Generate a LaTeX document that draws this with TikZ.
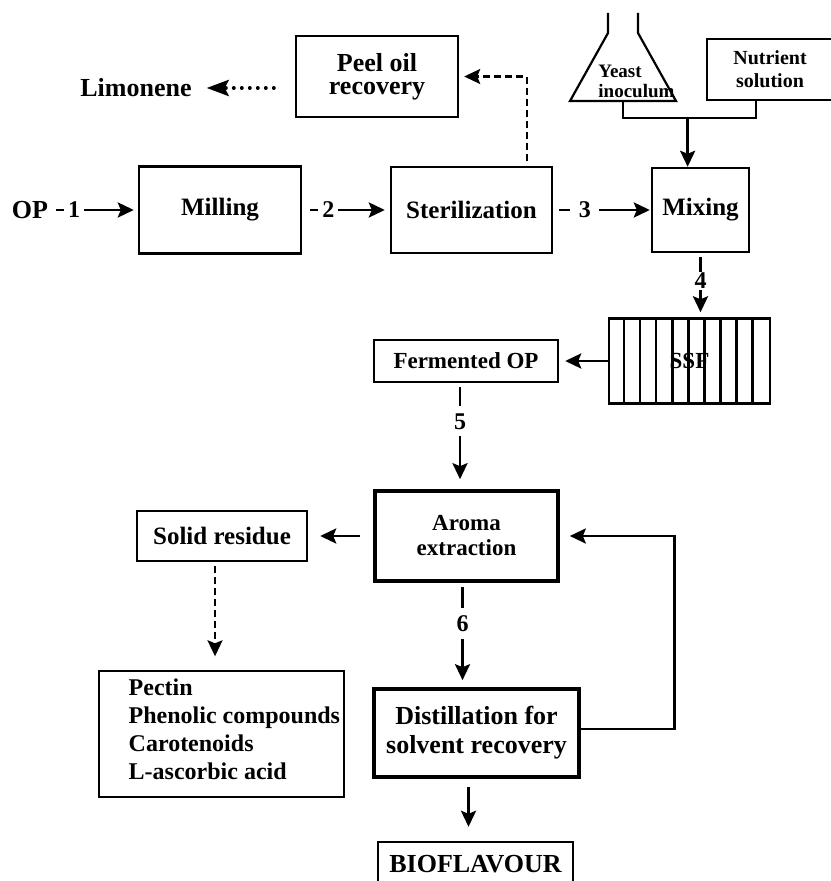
\documentclass[tikz,border=0pt]{standalone}
\usepackage{fontspec}
\setmainfont{Liberation Serif}
\usetikzlibrary{arrows.meta}

\begin{document}
\begin{tikzpicture}[x = 0.5pt, y = -0.5pt, line width = 1.4pt,
    >={Stealth[length = 8pt, width = 7.5pt, inset = 1.5pt]},
    fs/.style 2 args = {font = \fontsize{#1}{#2}\selectfont\bfseries},
    fs = {12.5}{14},
    box/.style = {draw, line width = 1.2pt, inner sep = 0pt, align = center},
    heavybox/.style = {box, line width = 1.8pt},
    thinbox/.style = {box, line width = 0.7pt},
    num/.style = {fill = white, inner xsep = 2pt, inner ysep = 3.5pt, fs = {12}{12}},
    dashline/.style = {line width = 1.1pt, dash pattern = on 3.5pt off 2pt},
    dotline/.style = {line width = 2pt, line cap = round, dash pattern = on 0pt off 4pt}]
\useasboundingbox (0,0) rectangle (830,881);
\draw
    (30,210) node[fs = {13}{14}](op){OP}
    (136,88) node[fs = {13}{14}](limo){Limonene}
    (377,76.5) node[box, minimum width = 81pt, minimum height = 40.5pt, fs = {13}{11.5}](peel){Peel oil\\recovery}
    (220,210) node[box, minimum width = 81pt, minimum height = 43.5pt](mill){Milling}
    (471.5,210) node[box, minimum width = 80.5pt, minimum height = 43pt](steril){Sterilization}
    (700.5,210) node[box, minimum width = 48.5pt, minimum height = 42pt](mix){Mixing}
    (770,69.5) node[box, minimum width = 63pt, minimum height = 30.5pt, fs = {10}{11.5}](nutr){Nutrient\\solution}
    (597,81) node[anchor = west, align = left, inner sep = 0pt, fs = {9.5}{10}](yeast){Yeast\\inoculum}
    (689.5,361) node[box, minimum width = 80.5pt, minimum height = 42.5pt, fs = {11.5}{12}](ssf){SSF}
    (466,361) node[box, minimum width = 92pt, minimum height = 21pt, fs = {11.5}{12}](ferm){Fermented OP}
    (466.5,536) node[heavybox, minimum width = 91.5pt, minimum height = 45pt, fs = {11.5}{12.5}](aroma){Aroma\\extraction}
    (222,536) node[box, minimum width = 85pt, minimum height = 25pt](solid){Solid residue}
    (221.5,734) node[thinbox, minimum width = 122.5pt, minimum height = 63pt](comp){}
    (476.5,733) node[heavybox, minimum width = 102.5pt, minimum height = 44pt, fs = {13}{14.5}](dist){Distillation for\\solvent recovery}
    (475.5,864) node[box, minimum width = 97.5pt, minimum height = 22pt, fs = {13}{14}](bio){BIOFLAVOUR};
\node[anchor = west, align = left, inner sep = 0pt, fs = {12}{14}](comptext) at ([xshift = 14.5pt, yshift = 2.5pt]comp.west) {Pectin\\Phenolic compounds\\Carotenoids\\L-ascorbic acid};

\foreach \i in {1,...,9}
    \draw[line width = 1.3pt] ([xshift = \i*8.05pt]ssf.south west) -- ([xshift = \i*8.05pt]ssf.north west);

\draw[line width = 1.1pt] (608,13) -- (608,33) -- (570,101) -- coordinate (fb) (676,101) -- (638,33) -- (638,13);
\draw (fb) -- ++(0,17) -| coordinate[pos = 0.243] (jn) ([xshift = -7pt]nutr.south);
\draw[->] (jn) -- (jn |- mix.north);

\draw[->, shorten >= 2pt] (op) -- node[num, pos = 0.22]{1} (mill);
\draw[->, shorten <= 4pt, shorten >= 2.5pt] (mill) -- node[num, pos = 0.3]{2} (steril);
\draw[->, shorten <= 3pt, shorten >= 0.5pt] (steril) -- node[num, pos = 0.325, inner xsep = 4.25pt]{3} (mix);
\draw[->, shorten <= 2pt, shorten >= 2.5pt] (mix) -- node[num, pos = 0.43, inner ysep = 0.5pt]{4} (mix |- ssf.north);
\draw[->, shorten >= 3pt] (ssf) -- (ferm);
\draw[->, shorten <= 2pt, shorten >= 5pt] ([xshift = -3pt]ferm.south) -- node[num, pos = 0.36]{5} ([xshift = -3pt]ferm.south |- aroma.north);
\draw[->, shorten <= 6.5pt, shorten >= 6pt] (aroma) -- (solid);
\draw[->, dashline, shorten <= 2pt, shorten >= 7pt] ([xshift = -3.5pt]solid.south) -- ([xshift = -3.5pt]solid.south |- comp.north);
\draw[->, shorten <= 2pt, shorten >= 3.5pt] ([xshift = -2pt]aroma.south) -- node[num, pos = 0.39]{6} ([xshift = -2pt]aroma.south |- dist.north);
\draw[->, shorten >= 5pt] ([yshift = 2pt]dist.east) -- ++(94,0) |- (aroma.east);
\draw[->, shorten <= 4pt, shorten >= 7pt] ([xshift = -4pt]dist.south) -- ([xshift = -4pt]dist.south |- bio.north);
\draw[-{Stealth[length = 11pt, width = 8pt, inset = 2pt]}, dotline, shorten <= 10.5pt, shorten >= 3.5pt] (peel.west |- limo) -- (limo);
\draw[->, dashline, shorten <= 2.5pt, shorten >= 2.5pt] ([xshift = 27.75pt]steril.north) |- (peel.east);
\end{tikzpicture}
\end{document}
